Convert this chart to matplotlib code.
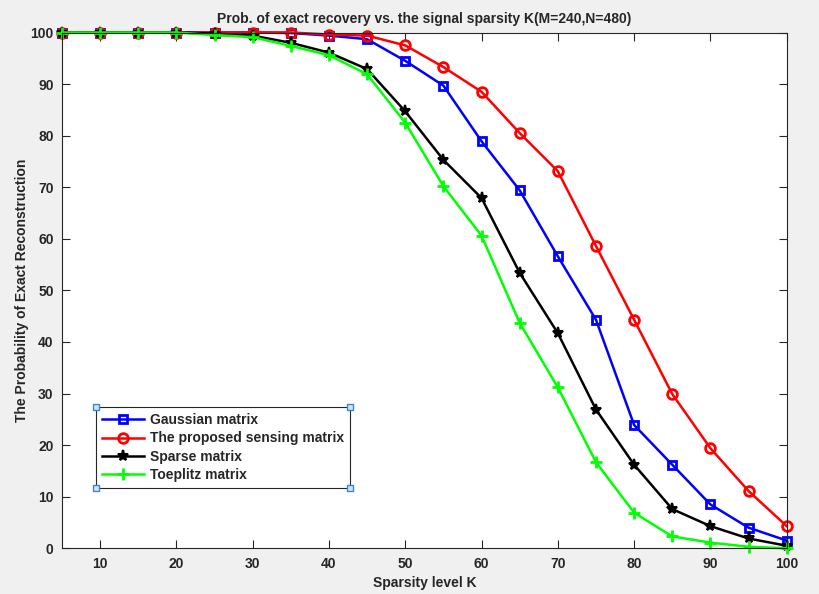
import matplotlib
matplotlib.use("Agg")
import matplotlib.pyplot as plt
from matplotlib.lines import Line2D

plt.rcParams['font.family'] = ['Liberation Sans', 'DejaVu Sans']
plt.rcParams['font.weight'] = 'bold'

# sparsity levels and recovery rates (%)
K = [5, 10, 15, 20, 25, 30, 35, 40, 45, 50, 55, 60, 65, 70, 75, 80, 85, 90, 95, 100]
gauss = [100, 100, 100, 100, 100, 100, 99.9, 99.4, 98.7, 94.5, 89.7, 78.9, 69.4, 56.6,
         44.3, 23.9, 16.2, 8.5, 4.0, 1.5]
proposed = [100, 100, 100, 100, 100, 100, 100, 99.6, 99.4, 97.5, 93.3, 88.5, 80.5, 73.1,
            58.6, 44.3, 29.9, 19.4, 11.1, 4.3]
sparse = [100, 100, 100, 100, 99.8, 99.4, 98.0, 96.1, 92.9, 84.7, 75.3, 67.9, 53.4, 41.7,
          26.9, 16.2, 7.6, 4.3, 1.9, 0.5]
toeplitz = [100, 100, 100, 100, 99.5, 99.1, 97.4, 95.6, 91.9, 82.5, 70.2, 60.6, 43.7, 31.2,
            16.7, 6.9, 2.3, 1.1, 0.3, 0]
names = ['Gaussian matrix', 'The proposed sensing matrix', 'Sparse matrix', 'Toeplitz matrix']

txt = '#262626'

fig = plt.figure(figsize=(8.19, 5.94), dpi=100, facecolor='#f0f0f0')
ax = fig.add_axes([62/819, 1 - 548.3/594, (786.7-62)/819, (548.3-32.5)/594])

ax.plot(K, gauss, color='#0000ff', lw=1.8, marker='s', ms=6, mew=2, mfc='none',
        label=names[0], clip_on=False)
ax.plot(K, proposed, color='#ff0000', lw=1.8, marker='o', ms=7, mew=2, mfc='none',
        label=names[1], clip_on=False)
ax.plot(K, sparse, color='black', lw=1.8, marker='*', ms=8, mew=1.5,
        label=names[2], clip_on=False)
ax.plot(K, toeplitz, color='#00ff00', lw=1.8, marker='+', ms=8, mew=2,
        label=names[3], clip_on=False)

ax.set_xlim(5, 100)
ax.set_ylim(0, 100)
ax.set_xticks(range(10, 101, 10))
ax.set_yticks(range(0, 101, 10))
ax.tick_params(direction='in', top=True, right=True, length=6, width=0.8,
               labelsize=10, colors=txt, pad=6)
for lab in ax.get_xticklabels() + ax.get_yticklabels():
    lab.set_fontweight('bold')
for s in ax.spines.values():
    s.set_color(txt)
    s.set_linewidth(0.8)

ax.set_title('Prob. of exact recovery vs. the signal sparsity K(M=240,N=480)',
             fontsize=10, fontweight='bold', color=txt, pad=7)
ax.set_xlabel('Sparsity level K', fontsize=10, fontweight='bold', color=txt, labelpad=4)
ax.set_ylabel('The Probability of Exact Reconstruction', fontsize=10, fontweight='bold',
              color=txt, labelpad=1)

leg = ax.legend(loc='upper left', bbox_to_anchor=(0.047, 0.274), borderaxespad=0,
                prop={'size': 10, 'weight': 'bold'}, handlelength=3.0, handletextpad=0.4,
                labelspacing=0.3, borderpad=0.45, fancybox=False, framealpha=1,
                edgecolor=txt)
leg.get_frame().set_linewidth(0.8)
for t in leg.get_texts():
    t.set_color(txt)

# little selection handles at the legend corners
fig.canvas.draw()
bb = leg.get_window_extent()
for x in (bb.x0, bb.x1):
    for y in (bb.y0, bb.y1):
        fig.add_artist(Line2D([x / fig.bbox.width], [y / fig.bbox.height], marker='s', ms=5,
                              mfc='#cfe4f7', mec='#3a87c9', mew=1, transform=fig.transFigure))

fig.savefig('out.png', dpi=100, facecolor=fig.get_facecolor())
